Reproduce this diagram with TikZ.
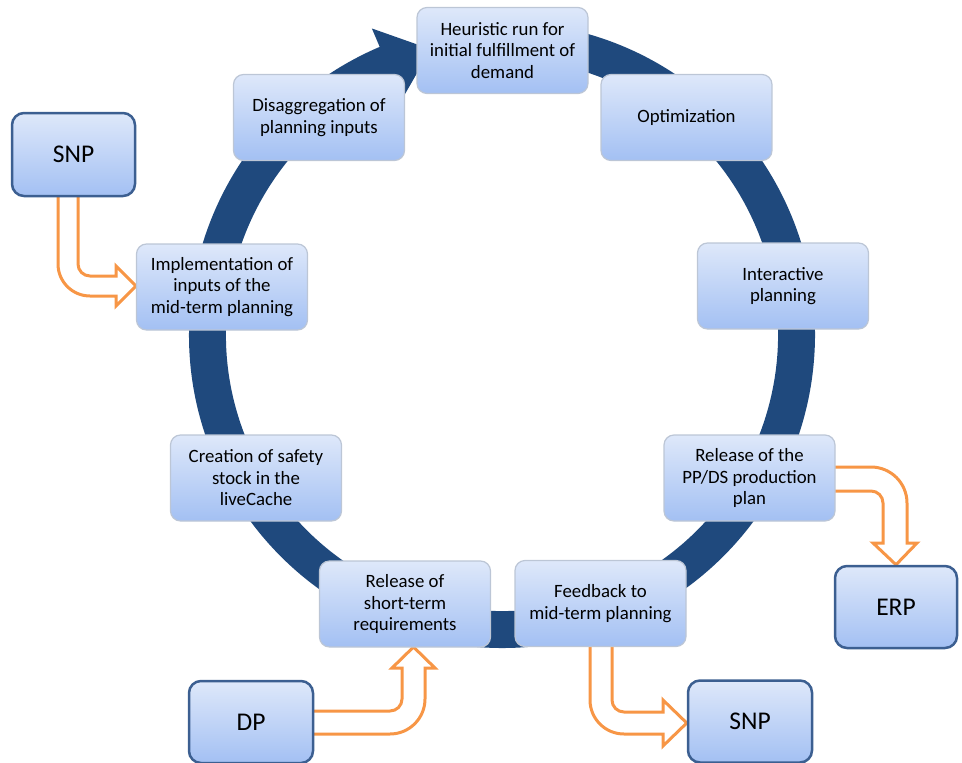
\documentclass[tikz,border=0pt]{standalone}
\usepackage{fontspec}
\setmainfont{Carlito}
\usetikzlibrary{backgrounds}
\definecolor{ringblue}{RGB}{31,73,125}
\definecolor{boxtop}{RGB}{222,232,250}
\definecolor{boxbottom}{RGB}{163,192,243}
\definecolor{boxedge}{RGB}{188,198,214}
\definecolor{outeredge}{RGB}{60,95,145}
\definecolor{feedorange}{RGB}{247,150,70}
\tikzset{
  stepbox/.style={rectangle, rounded corners=10pt, draw=boxedge, line width=1.2pt,
    top color=boxtop, bottom color=boxbottom, minimum width=171pt, minimum height=86pt,
    align=center, inner sep=1pt, font=\fontsize{18.8}{21.5}\selectfont},
  sysbox/.style={rectangle, rounded corners=12pt, draw=outeredge, line width=2.5pt,
    top color=boxtop, bottom color=boxbottom, minimum width=122pt, minimum height=82pt,
    align=center, font=\fontsize{25.5}{30}\selectfont},
  hollow/.style={draw=feedorange, fill=white, line width=3pt, line join=miter}
}
\begin{document}
\begin{tikzpicture}[x=1pt, y=-1pt]
\useasboundingbox (0,0) rectangle (962,763);

% planning cycle steps
\node[stepbox] (heur)  at (502.5,50.5) {Heuristic run for\\initial fulfillment of\\demand};
\node[stepbox] (opt)   at (686.5,117.5) {Optimization};
\node[stepbox] (inter) at (783,286) {Interactive\\planning};
\node[stepbox] (ppds)  at (749.5,478) {Release of the\\PP/DS production\\plan};
\node[stepbox] (feed)  at (600.5,603.5) {Feedback to\\mid-term planning};
\node[stepbox] (short) at (405,604) {Release of\\short-term\\requirements};
\node[stepbox] (safe)  at (256,478) {Creation of safety\\stock in the\\liveCache};
\node[stepbox] (impl)  at (222,287) {Implementation of\\inputs of the\\mid-term planning};
\node[stepbox] (disag) at (319,117.5) {Disaggregation of\\planning inputs};

% neighbouring systems
\node[sysbox, minimum width=123pt, minimum height=83pt] (snpin)  at (73.5,154.5) {SNP};
\node[sysbox] (erp)    at (896,607) {ERP};
\node[sysbox, minimum width=124pt] (dp)     at (251,722) {DP};
\node[sysbox, minimum width=124pt] (snpout) at (750,721.5) {SNP};

\begin{scope}[on background layer]
  % circular process arrow (clockwise, head at the top)
  \fill[ringblue, shift={(502,335)}]
    (-85:313) arc[start angle=-85, end angle=247, radius=313]
    -- (247:333) -- (256:294.5) -- (247:256) -- (247:276)
    arc[start angle=247, end angle=-85, radius=276] -- cycle;

  % SNP -> implementation of inputs
  \path[hollow] (58,190) -- (58,264) arc[start angle=180, end angle=90, radius=32]
    -- (116,296) -- (116,306) -- (impl.west |- 0,286) -- (116,266) -- (116,276)
    -- (90,276) arc[start angle=90, end angle=180, radius=12] -- (78,190);

  % release of PP/DS plan -> ERP
  \path[hollow] (830,467) -- (871,467) arc[start angle=270, end angle=360, radius=36]
    -- (907,543) -- (917,543) -- (erp.north) -- (873,543) -- (883,543)
    -- (883,503) arc[start angle=0, end angle=-90, radius=12] -- (830,491);

  % DP -> release of short-term requirements
  \path[hollow] (306,711) -- (390,711) arc[start angle=90, end angle=0, radius=12]
    -- (402,668) -- (392,668) -- (413.5,647) -- (435,668) -- (425,668)
    -- (425,699) arc[start angle=0, end angle=90, radius=35] -- (306,734);

  % feedback -> SNP
  \path[hollow] (612,640) -- (612,700) arc[start angle=180, end angle=90, radius=12]
    -- (663,712) -- (663,700) -- (snpout.west |- 0,723) -- (663,746) -- (663,734)
    -- (624,734) arc[start angle=90, end angle=180, radius=34] -- (590,640);
\end{scope}
\end{tikzpicture}
\end{document}
